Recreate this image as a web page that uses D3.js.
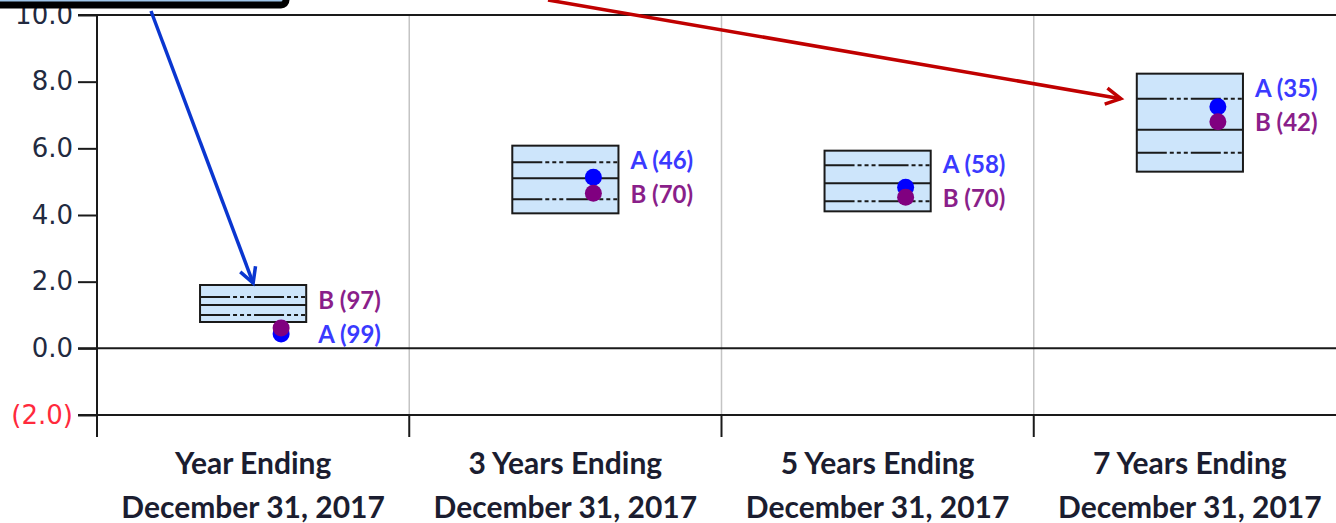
<!DOCTYPE html>
<html>
<head>
<meta charset="utf-8">
<script src="https://cdn.jsdelivr.net/npm/d3@7"></script>
<style>
  html, body { margin: 0; padding: 0; background: #ffffff; }
  svg { display: block; }
</style>
</head>
<body>
<svg id="chart" width="1336" height="523"></svg>
<script>
// Periods shown along the x axis
const periodLabels = ["Year Ending", "3 Years Ending", "5 Years Ending", "7 Years Ending"];
const dateLabel = "December 31, 2017";

// Peer-universe percentile breakpoints (returns, %)
const p5  = [1.90, 6.08, 5.93, 8.24];
const p25 = [1.54, 5.58, 5.49, 7.49];
const p50 = [1.30, 5.10, 4.95, 6.56];
const p75 = [1.00, 4.47, 4.41, 5.87];
const p95 = [0.79, 4.05, 4.11, 5.30];

// Portfolio returns and their percentile ranks
const seriesA = [0.43, 5.13, 4.83, 7.25];
const rankA   = [99, 46, 58, 35];
const seriesB = [0.61, 4.65, 4.53, 6.80];
const rankB   = [97, 70, 70, 42];

const yTicks = [-2, 0, 2, 4, 6, 8, 10];

const svg = d3.select("#chart");

const x = d3.scaleBand().domain(d3.range(periodLabels.length)).range([97, 1346]).padding(0);
const y = d3.scaleLinear().domain([-2, 10]).range([415, 15]);

const bw = x.bandwidth();
const boxW = bw * 0.34;
const dotDx = 28;

// Vertical separators between periods
svg.append("g").selectAll("line")
  .data(d3.range(1, periodLabels.length))
  .join("line")
  .attr("x1", d => x(d)).attr("x2", d => x(d))
  .attr("y1", y(10)).attr("y2", y(-2))
  .attr("stroke", "#c4c4c4").attr("stroke-width", 1.5);

// Horizontal reference lines at top and zero
svg.append("g").selectAll("line")
  .data([10, 0])
  .join("line")
  .attr("x1", 78).attr("x2", 1346)
  .attr("y1", d => y(d)).attr("y2", d => y(d))
  .attr("stroke", "#1a1a1a").attr("stroke-width", 2);

// Y axis
const yAxis = d3.axisLeft(y)
  .tickValues(yTicks)
  .tickSize(19)
  .tickPadding(5)
  .tickFormat(d => d < 0 ? "(" + d3.format(".1f")(-d) + ")" : d3.format(".1f")(d));

const gy = svg.append("g").attr("transform", "translate(97,0)").call(yAxis);
gy.select(".domain").remove();
gy.selectAll(".tick line").attr("stroke", "#1a1a1a").attr("stroke-width", 2);
gy.selectAll(".tick text")
  .attr("font-family", "DejaVu Sans, Verdana, sans-serif")
  .attr("font-size", 26)
  .attr("fill", d => d < 0 ? "#ff2a3c" : "#222a40");
svg.append("line")
  .attr("x1", 97).attr("x2", 97).attr("y1", y(10)).attr("y2", 437)
  .attr("stroke", "#1a1a1a").attr("stroke-width", 2);

// X axis
svg.append("line")
  .attr("x1", 78).attr("x2", 1346).attr("y1", y(-2)).attr("y2", y(-2))
  .attr("stroke", "#1a1a1a").attr("stroke-width", 2);
svg.append("g").selectAll("line")
  .data(d3.range(periodLabels.length))
  .join("line")
  .attr("x1", d => x(d)).attr("x2", d => x(d))
  .attr("y1", y(-2)).attr("y2", 437)
  .attr("stroke", "#1a1a1a").attr("stroke-width", 2);

const catText = svg.append("g").selectAll("text")
  .data(periodLabels)
  .join("text")
  .attr("text-anchor", "middle")
  .attr("font-family", "Lato, 'Open Sans', sans-serif")
  .attr("font-weight", 700)
  .attr("font-size", 30)
  .attr("fill", "#1b1d30");
catText.append("tspan").attr("x", (d, i) => x(i) + bw / 2).attr("y", 474).text(d => d);
catText.append("tspan").attr("x", (d, i) => x(i) + bw / 2).attr("y", 518).text(dateLabel);

// Percentile boxes
const boxes = svg.append("g").selectAll("g")
  .data(d3.range(periodLabels.length))
  .join("g");

boxes.append("rect")
  .attr("x", i => x(i) + bw / 2 - boxW / 2)
  .attr("y", i => y(p5[i]))
  .attr("width", boxW)
  .attr("height", i => y(p95[i]) - y(p5[i]))
  .attr("fill", "#cde5fb")
  .attr("stroke", "#1a1a1a")
  .attr("stroke-width", 2);

const quartileLines = [
  { vals: p25, dash: "30,3,4,3,4,3,4,3" },
  { vals: p50, dash: null },
  { vals: p75, dash: "30,3,4,3,4,3,4,3" }
];
quartileLines.forEach(q => {
  boxes.append("line")
    .attr("x1", i => x(i) + bw / 2 - boxW / 2)
    .attr("x2", i => x(i) + bw / 2 + boxW / 2)
    .attr("y1", i => y(q.vals[i]))
    .attr("y2", i => y(q.vals[i]))
    .attr("stroke", "#1a1a1a")
    .attr("stroke-width", 2)
    .attr("stroke-dasharray", q.dash);
});

// Portfolio dots (A first, B drawn on top)
const series = [
  { name: "A", vals: seriesA, ranks: rankA, dot: "#0000ff", text: "#3a3aff" },
  { name: "B", vals: seriesB, ranks: rankB, dot: "#800080", text: "#8a1f8a" }
];
series.forEach(s => {
  svg.append("g").selectAll("circle")
    .data(s.vals)
    .join("circle")
    .attr("cx", (d, i) => x(i) + bw / 2 + dotDx)
    .attr("cy", d => y(d))
    .attr("r", 8.5)
    .attr("fill", s.dot);
});

// Rank labels: lower label sits at the lower dot, upper label stacked above it
const labelG = svg.append("g")
  .attr("font-family", "Lato, 'Open Sans', sans-serif")
  .attr("font-weight", 700)
  .attr("font-size", 24);
d3.range(periodLabels.length).forEach(i => {
  const ya = y(seriesA[i]), yb = y(seriesB[i]);
  const lowerY = Math.max(ya, yb) + 1;
  const upperY = lowerY - 34;
  const aLower = ya >= yb;
  const lx = x(i) + bw / 2 + boxW / 2 + 12;
  series.forEach(s => {
    const isLower = (s.name === "A") === aLower;
    labelG.append("text")
      .attr("x", lx)
      .attr("y", isLower ? lowerY : upperY)
      .attr("dy", "0.35em")
      .attr("fill", s.text)
      .text(`${s.name} (${s.ranks[i]})`);
  });
});

// Callout box partly above the visible area
svg.append("rect")
  .attr("x", -20).attr("y", -40)
  .attr("width", 306).attr("height", 45)
  .attr("rx", 5)
  .attr("fill", "#9fc5e8")
  .attr("stroke", "#000000")
  .attr("stroke-width", 7);

// Annotation arrows
function arrow(x1, y1, x2, y2, color, w) {
  const ang = Math.atan2(y2 - y1, x2 - x1);
  const len = 17, spread = 0.5;
  const a1 = ang + Math.PI - spread, a2 = ang + Math.PI + spread;
  const g = svg.append("g")
    .attr("stroke", color).attr("stroke-width", w)
    .attr("fill", "none").attr("stroke-linecap", "butt").attr("stroke-linejoin", "miter");
  g.append("line").attr("x1", x1).attr("y1", y1).attr("x2", x2).attr("y2", y2);
  g.append("path").attr("d",
    `M${x2 + len * Math.cos(a1)},${y2 + len * Math.sin(a1)} L${x2},${y2} L${x2 + len * Math.cos(a2)},${y2 + len * Math.sin(a2)}`);
}
arrow(151, 11, x(0) + bw / 2, y(p5[0]) - 2, "#0a36d0", 3.5);
arrow(548, 0, x(3) + bw / 2 - boxW / 2 - 16, y(p25[3]), "#c00000", 3.5);
</script>
</body>
</html>
